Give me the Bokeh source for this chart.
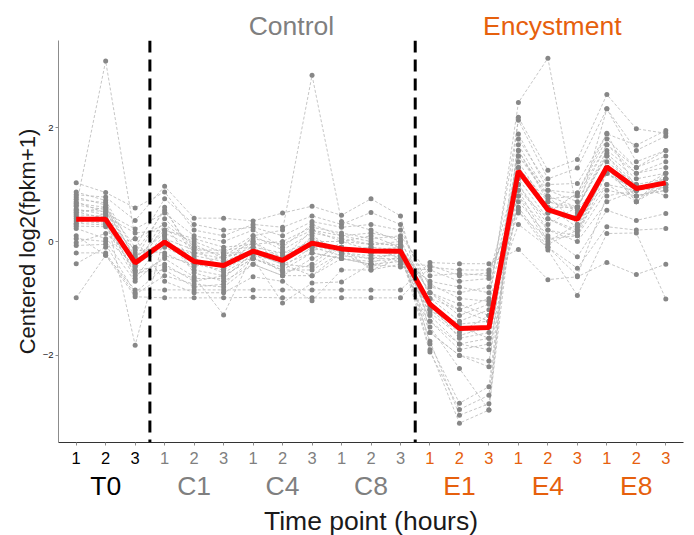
from bokeh.plotting import figure
from bokeh.models import FixedTicker, Span, ColumnDataSource, Range1d
from bokeh.layouts import column
from bokeh.core.properties import value
from bokeh.embed import file_html
from bokeh.resources import INLINE

# Sampling design: 7 conditions x 3 replicates
groups = ["T0", "C1", "C4", "C8", "E1", "E4", "E8"]
replicates = ["1", "2", "3"]
phase_names = ["Control", "Encystment"]

# Centered log2(fpkm+1) per gene, 21 samples each (T0 1-3, C1 1-3, ..., E8 1-3)
g01 = [0.62, 3.17, 0.05, 0.30, -0.05, -0.30, -0.10, -0.40, 0.10, -0.20, -0.10, -0.30, -1.20, -1.60, -1.30, 1.30, 0.60, 0.60, 1.50, 0.90, 1.10]
g02 = [0.50, 0.60, -0.30, 0.20, 0.00, -0.20, 0.10, 0.20, 2.92, 0.35, 0.20, 0.00, -0.90, -1.20, -1.40, 1.50, 0.80, 0.60, 1.60, 1.20, 1.30]
g03 = [0.70, 0.50, 0.22, 0.50, 0.10, 0.00, 0.20, -0.10, 0.30, 0.10, 0.00, -0.10, -0.90, -1.30, -1.10, 2.44, 3.22, 0.50, 2.33, 1.40, 1.60]
g04 = [-0.99, -0.24, -0.85, -0.85, -0.85, -0.85, -0.85, -0.85, -0.85, -0.85, -0.85, -0.85, -0.37, -0.39, -0.39, -0.14, -0.67, -0.62, -0.37, -0.58, -0.40]
g05 = [0.10, -0.24, -0.97, -0.99, -0.99, -0.99, -0.98, -0.99, -0.99, -0.99, -0.99, -0.99, -0.45, -0.50, -0.50, 0.55, -0.15, -0.95, 0.14, 0.15, -1.01]
g06 = [0.30, 0.50, -1.82, 0.10, -0.50, -0.60, -0.30, -0.50, -0.20, -0.30, -0.40, -0.10, -1.40, -1.90, -1.80, 1.10, 0.40, 0.20, 1.30, 0.70, 1.20]
g07 = [0.44, 0.38, -0.60, -0.30, -0.62, -1.29, -0.20, -0.40, -0.60, -0.20, -0.45, -0.25, -1.60, -2.00, -2.10, 0.80, 0.20, 0.10, 1.20, 0.90, 1.00]
g08 = [0.87, 0.72, -0.20, 0.55, -0.20, -0.30, 0.00, -0.30, 0.20, 0.00, 0.10, -0.10, -1.90, -3.19, -2.96, 1.89, 0.90, 0.85, 1.80, 1.30, 1.50]
g09 = [0.78, 0.64, -0.45, 0.40, -0.10, -0.50, -0.20, -0.20, -0.10, -0.10, -0.20, -0.20, -1.75, -3.05, -2.85, 1.80, 1.00, 1.02, 1.89, 1.69, 1.95]
g10 = [0.64, 0.56, -0.50, 0.30, -0.40, -0.40, -0.30, -0.45, -0.10, -0.25, -0.30, -0.20, -1.94, -2.95, -2.70, 1.60, 0.70, 0.60, 1.54, 1.10, 1.20]
g11 = [0.74, 0.68, -0.33, 0.60, -0.30, -0.45, 0.10, -0.15, 0.15, 0.05, -0.05, 0.00, -1.80, -2.84, -2.55, 1.70, 0.80, 0.30, 1.40, 1.00, 1.10]
g12 = [0.57, 0.47, -0.40, 0.10, -0.55, -0.70, -0.40, -0.60, -0.30, -0.10, -0.50, -0.30, -1.50, -2.23, -2.96, 1.40, 0.60, 0.25, 1.30, 0.80, 0.90]
g13 = [0.82, 0.78, 0.37, 0.97, 0.41, 0.41, 0.36, 0.50, 0.62, 0.46, 0.75, 0.45, -1.60, -2.00, -2.20, 2.18, 1.25, 1.44, 2.58, 1.98, 1.90]
g14 = [1.03, 0.86, 0.59, 0.87, 0.20, 0.10, 0.30, 0.25, 0.45, 0.30, 0.51, 0.30, -1.00, -1.20, -1.00, 2.13, 1.10, 1.29, 2.33, 1.60, 1.85]
g15 = [0.67, 0.60, -0.10, 0.75, 0.30, 0.20, 0.25, 0.10, 0.35, 0.25, 0.30, 0.20, -0.80, -0.90, -0.80, 1.20, 0.50, 0.85, 1.90, 0.90, 1.00]
g16 = [0.55, 0.53, -0.25, 0.00, -0.25, -0.35, -0.15, -0.30, 0.05, -0.15, -0.10, -0.15, -1.10, -1.70, -1.60, 1.00, 0.30, 0.61, 1.50, 1.00, 0.80]
g17 = [0.52, 0.41, -0.36, -0.10, -0.35, -0.55, -0.25, -0.35, -0.05, -0.20, -0.25, -0.25, -1.20, -1.50, -1.70, 0.90, 0.40, 0.15, 1.30, 0.70, 1.10]
g18 = [0.47, 0.44, 0.15, 0.20, 0.05, -0.10, -0.05, 0.00, 0.25, 0.15, 0.05, 0.10, -0.60, -0.56, -0.60, 1.30, 0.70, 0.55, 1.20, 0.80, 0.95]
g19 = [0.40, 0.35, -0.15, -0.20, -0.45, -0.25, -0.20, -0.55, -0.40, 0.00, -0.15, -0.10, -1.30, -1.80, -1.90, 0.70, 0.10, -0.27, 0.55, 0.37, 0.49]
g20 = [0.36, 0.32, -0.52, -0.40, -0.70, -0.60, -0.30, -0.50, -0.50, -0.20, -0.30, -0.30, -1.00, -1.40, -1.20, 0.30, -0.10, -0.47, 0.26, 0.20, 0.23]
g21 = [0.32, 0.29, -0.55, -0.50, -0.80, -0.75, -0.30, -1.08, -0.73, -0.71, -0.40, -0.35, -1.25, -1.65, -1.50, 1.00, 0.20, 0.00, 0.70, 0.90, 0.95]
g22 = [0.27, 0.26, -0.65, 0.05, -0.15, -0.15, -0.10, -0.20, 0.00, 0.00, -0.05, -0.05, -1.40, -1.80, -1.70, 1.50, 0.90, 0.70, 1.70, 1.20, 1.40]
g23 = [0.23, 0.05, -0.43, -0.05, -0.20, -0.20, -0.20, -0.25, -0.15, -0.10, -0.20, -0.10, -0.90, -1.10, -1.30, 1.20, 0.50, 0.45, 1.00, 0.90, 1.00]
g24 = [0.05, 0.00, -0.70, -0.25, -0.40, -0.50, 0.00, -0.40, -0.20, -0.30, -0.35, -0.30, -0.70, -0.80, -0.90, 0.90, 0.00, 0.30, 1.20, 0.90, 1.10]
g25 = [-0.02, 0.14, -0.30, 0.15, -0.10, -0.25, 0.05, -0.05, 0.20, 0.10, 0.15, 0.05, -1.15, -1.45, -1.40, 1.60, 0.75, 0.80, 1.70, 1.30, 1.60]
g26 = [-0.07, -0.05, -0.90, -0.45, -0.65, -0.65, -0.20, -0.40, -0.45, -0.10, -0.20, -0.15, -0.75, -1.00, -1.05, 0.50, 0.05, 0.10, 0.90, 0.80, 0.90]
g27 = [-0.20, -0.20, -0.93, -0.60, -0.75, -0.80, -0.40, -0.60, -0.60, -0.30, -0.40, -0.45, -0.50, -0.70, -0.65, 0.80, -0.05, 0.20, 1.00, 0.70, 1.00]
g28 = [-0.39, -0.10, 0.05, -0.70, -0.90, -0.90, -0.62, -0.70, -1.04, -0.50, -0.50, -0.40, -0.42, -0.60, -0.55, 0.60, -0.10, -0.60, 0.80, 0.90, 1.20]

# Cluster mean profile (red line)
mean_profile = [0.39, 0.39, -0.375, -0.01, -0.35, -0.42, -0.17, -0.33, -0.03, -0.13, -0.165, -0.17,
                -1.10, -1.53, -1.51, 1.24, 0.56, 0.39, 1.31, 0.93, 1.03]

genes = [g01, g02, g03, g04, g05, g06, g07, g08, g09, g10, g11, g12, g13, g14,
         g15, g16, g17, g18, g19, g20, g21, g22, g23, g24, g25, g26, g27, g28]

FONT = "Liberation Sans"
GREY = "#7f7f7f"
ORANGE = "#e6600d"
group_colors = ["#000000", GREY, GREY, GREY, ORANGE, ORANGE, ORANGE]

n_samples = len(groups) * len(replicates)
xs = list(range(1, n_samples + 1))
x_range = Range1d(0.4, n_samples + 0.6)

W = 694
LEFT, RIGHT = 58, 11
HEADER_H, MAIN_FRAME_H, AXIS_H = 40, 402, 4
FOOTER_H = 535 - HEADER_H - MAIN_FRAME_H - AXIS_H


def strip(height):
    """A bare panel (no axes) aligned with the main plot's frame, y in pixels from its top."""
    s = figure(width=W, height=height, output_backend="svg", toolbar_location=None,
               x_range=x_range, y_range=Range1d(height, 0),
               min_border_left=LEFT, min_border_right=RIGHT, min_border_top=0,
               min_border_bottom=0)
    s.axis.visible = False
    s.grid.visible = False
    s.outline_line_color = None
    s.background_fill_color = "white"
    s.border_fill_color = "white"
    return s


# ---- header with phase names
header = strip(HEADER_H)
header.text(x=[8.3, 17.15], y=[25, 25], text=phase_names, text_color=[GREY, ORANGE],
            text_font=value(FONT), text_font_size="26.5px", text_align="center",
            text_baseline="middle")

# ---- main panel
p = figure(width=W, height=MAIN_FRAME_H + AXIS_H, output_backend="svg", toolbar_location=None,
           x_range=x_range, y_range=Range1d(-3.53, 3.53),
           min_border_left=LEFT, min_border_right=RIGHT, min_border_top=0,
           min_border_bottom=AXIS_H)
p.background_fill_color = "white"
p.border_fill_color = "white"
p.outline_line_color = None
p.xgrid.visible = False
p.ygrid.visible = False

# individual gene profiles
p.multi_line(xs=[xs] * len(genes), ys=genes, line_color="#b8b8b8", line_width=0.8,
             line_dash="3 2")
pts = ColumnDataSource(dict(x=[x for g in genes for x in xs], y=[v for g in genes for v in g]))
p.scatter("x", "y", source=pts, size=5, fill_color="#878787", line_color=None)

# mean profile
p.line(xs, mean_profile, line_color="#ff0000", line_width=5)

# phase separators
for xb in (3.5, 12.5):
    p.add_layout(Span(location=xb, dimension="height", line_color="black",
                      line_width=3, line_dash="12 7"))

p.yaxis.ticker = FixedTicker(ticks=[-2, 0, 2])
p.yaxis.axis_line_color = "#8c8c8c"
p.yaxis.major_tick_line_color = "#8c8c8c"
p.yaxis.major_tick_out = 3
p.yaxis.major_tick_in = 0
p.yaxis.minor_tick_line_color = None
p.yaxis.major_label_text_font = FONT
p.yaxis.major_label_text_font_size = "9.5px"
p.yaxis.major_label_text_color = "#1a1a1a"
p.yaxis.major_label_standoff = 2
p.yaxis.axis_label = "Centered log2(fpkm+1)"
p.yaxis.axis_label_text_font = FONT
p.yaxis.axis_label_text_font_style = "normal"
p.yaxis.axis_label_text_font_size = "22px"
p.yaxis.axis_label_text_color = "#1a1a1a"
p.yaxis.axis_label_standoff = 0

p.xaxis.ticker = FixedTicker(ticks=xs)
p.xaxis.major_label_overrides = {x: "" for x in xs}
p.xaxis.major_label_text_font_size = "0px"
p.xaxis.major_label_standoff = 0
p.xaxis.axis_line_color = "#333333"
p.xaxis.axis_line_width = 1.2
p.xaxis.major_tick_line_color = "#8c8c8c"
p.xaxis.major_tick_out = 3
p.xaxis.major_tick_in = 0
p.xaxis.minor_tick_line_color = None

# ---- footer: replicate numbers, condition names, axis title
footer = strip(FOOTER_H)
rep_x, rep_text, rep_col = [], [], []
for gi, col in enumerate(group_colors):
    for ri, rep in enumerate(replicates):
        rep_x.append(gi * len(replicates) + ri + 1)
        rep_text.append(rep)
        rep_col.append(col)
footer.text(x=rep_x, y=[11.5] * len(rep_x), text=rep_text, text_color=rep_col,
            text_font=value(FONT), text_font_size="16.5px", text_align="center",
            text_baseline="middle")
grp_x = [gi * len(replicates) + 2 for gi in range(len(groups))]
footer.text(x=grp_x, y=[39] * len(groups), text=groups, text_color=group_colors,
            text_font=value(FONT), text_font_size="26.5px", text_align="center",
            text_baseline="middle")
footer.text(x=[(1 + n_samples) / 2], y=[74], text=["Time point (hours)"], text_color="#1a1a1a",
            text_font=value(FONT), text_font_size="26.5px", text_align="center",
            text_baseline="middle")

layout = column(header, p, footer, spacing=0)
open("out.html", "w").write(file_html(layout, INLINE))
